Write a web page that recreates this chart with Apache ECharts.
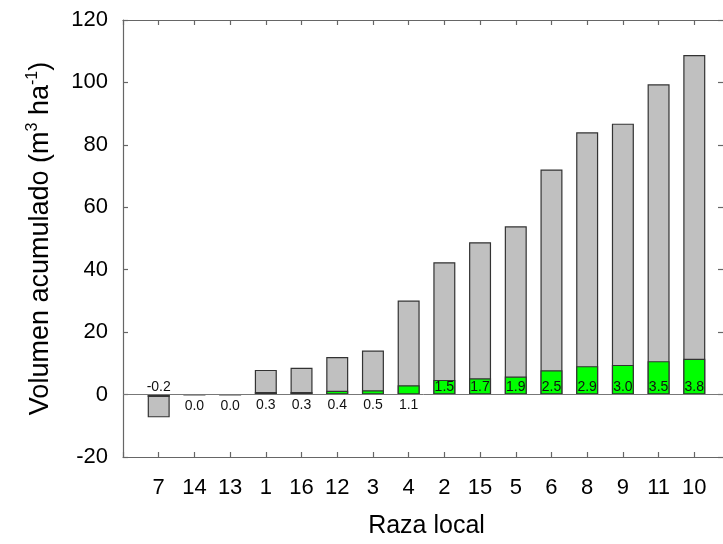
<!DOCTYPE html>
<html>
<head>
<meta charset="utf-8">
<script src="https://cdn.jsdelivr.net/npm/echarts@6/dist/echarts.min.js"></script>
<style>html,body{margin:0;padding:0;background:#fff;}#c{width:723px;height:544px;}</style>
</head>
<body>
<div id="c"></div>
<script>
// Categories (Raza local) in plotted order
const categories = ['7','14','13','1','16','12','3','4','2','15','5','6','8','9','11','10'];
// Gray bar: accumulated volume (m3 ha-1)
const totalVolume = [-7.3, 0, 0, 7.9, 8.6, 12.0, 14.1, 30.1, 42.4, 48.8, 53.9, 72.1, 84.0, 86.8, 99.4, 108.8];
// Green bar portion
const greenVolume = [-0.8, 0, 0, 0.8, 0.8, 1.2, 1.4, 3.0, 4.7, 5.2, 5.8, 7.8, 9.1, 9.5, 10.7, 11.5];
// Value labels shown on the chart
const valueLabels = ['-0.2','0.0','0.0','0.3','0.3','0.4','0.5','1.1','1.5','1.7','1.9','2.5','2.9','3.0','3.5','3.8'];
// Y axis ticks
const yMin = -20, yMax = 120, yStep = 20;

const FONT = '"Liberation Sans", Arial, Helvetica, sans-serif';
const axisColor = '#666';

const chart = echarts.init(document.getElementById('c'), null, {renderer: 'canvas'});

const grayData = totalVolume.map((v, i) => [i + 1, v]);
const greenData = greenVolume.map((v, i) => {
  let pos, dist;
  if (v < 0) { pos = 'top'; dist = 0; }
  else if (v < 4) { pos = 'bottom'; dist = 4; }
  else { pos = 'insideBottom'; dist = 0; }
  return { value: [i + 1, v], label: { position: pos, distance: dist } };
});

const lineCfg = { show: true, onZero: false, lineStyle: { color: axisColor, width: 1.2 } };
const tickCfg = { show: true, inside: true, length: 5, lineStyle: { color: axisColor, width: 1.2 } };

const option = {
  animation: false,
  grid: { left: 123, top: 20, width: 607, height: 437, containLabel: false, outerBoundsMode: 'none' },
  xAxis: [
    {
      type: 'value', position: 'bottom', min: 0, max: categories.length + 1, interval: 1,
      name: 'Raza local', nameLocation: 'middle', nameGap: 57,
      nameTextStyle: { fontFamily: FONT, fontSize: 25, color: '#000' },
      axisLine: lineCfg, axisTick: tickCfg,
      axisLabel: {
        margin: 20, fontFamily: FONT, fontSize: 22, color: '#000',
        formatter: v => (v >= 1 && v <= categories.length) ? categories[v - 1] : ''
      },
      splitLine: { show: false }
    },
    {
      type: 'value', position: 'top', min: 0, max: categories.length + 1, interval: 1,
      axisLine: lineCfg, axisTick: tickCfg,
      axisLabel: { show: false },
      splitLine: { show: false }
    }
  ],
  yAxis: [
    {
      type: 'value', position: 'left', min: yMin, max: yMax, interval: yStep,
      name: '{n|Volumen acumulado (m}{sup|3}{n| ha}{sup|-1}{n|)}',
      nameLocation: 'middle', nameGap: 66, nameRotate: 90,
      nameTextStyle: {
        fontFamily: FONT, fontSize: 27, color: '#000',
        rich: {
          n: { fontFamily: FONT, fontSize: 27, color: '#000', lineHeight: 32 },
          sup: { fontFamily: FONT, fontSize: 16, color: '#000', verticalAlign: 'top', lineHeight: 16 }
        }
      },
      axisLine: lineCfg, axisTick: tickCfg,
      axisLabel: { margin: 15, fontFamily: FONT, fontSize: 22, color: '#000' },
      splitLine: { show: false }
    },
    {
      type: 'value', position: 'right', min: yMin, max: yMax, interval: yStep,
      axisLine: lineCfg,
      axisTick: { show: true, inside: true, length: 12, lineStyle: { color: axisColor, width: 1.2 } },
      axisLabel: { show: false },
      splitLine: { show: false }
    }
  ],
  series: [
    {
      name: 'total', type: 'bar', xAxisIndex: 0, yAxisIndex: 0,
      data: grayData, barWidth: 22,
      itemStyle: { color: '#c0c0c0', borderColor: '#333', borderWidth: 1.2 },
      markLine: {
        silent: true, symbol: 'none', label: { show: false },
        lineStyle: { color: '#777', type: 'solid', width: 1 },
        data: [{ yAxis: 0 }]
      },
      z: 2
    },
    {
      name: 'green', type: 'bar', xAxisIndex: 0, yAxisIndex: 0,
      data: greenData, barWidth: 22, barGap: '-100%',
      itemStyle: { color: '#00ff00', borderColor: '#333', borderWidth: 1.2 },
      label: {
        show: true, fontFamily: FONT, fontSize: 14, color: '#111',
        formatter: p => valueLabels[p.dataIndex]
      },
      z: 3
    }
  ]
};
chart.setOption(option);
</script>
</body>
</html>
